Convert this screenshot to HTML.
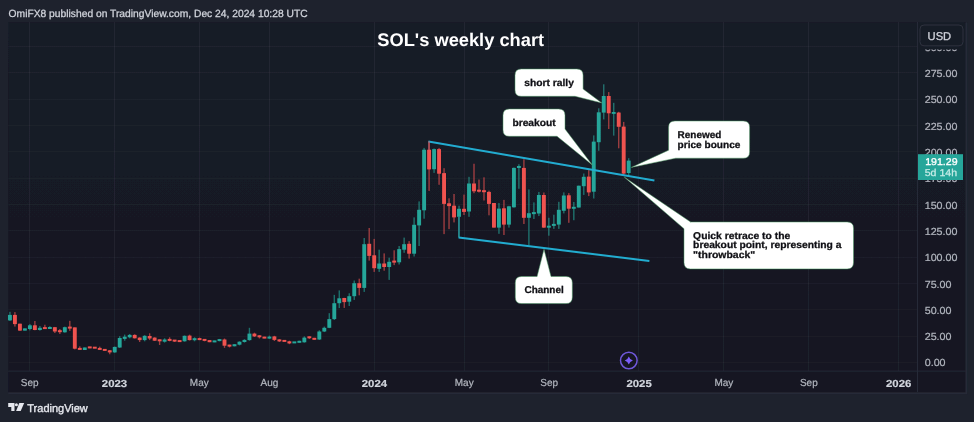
<!DOCTYPE html>
<html><head><meta charset="utf-8"><title>SOL weekly chart</title>
<style>
html,body{margin:0;padding:0;background:#1e222d;}
body{width:974px;height:422px;overflow:hidden;position:relative;font-family:"Liberation Sans",sans-serif;}
svg{position:absolute;left:0;top:0;display:block;}
text{font-family:"Liberation Sans",sans-serif;text-rendering:geometricPrecision;}
.ax{font-size:10.3px;fill:#b2b5be;stroke:#b2b5be;stroke-width:0.22px;}
.tm{font-size:10.2px;fill:#b2b5be;stroke:#b2b5be;stroke-width:0.22px;text-anchor:middle;}
.yr{font-size:10.2px;fill:#d1d4dc;stroke:#d1d4dc;stroke-width:0.2px;font-weight:bold;text-anchor:middle;}
.cb{font-size:9.9px;font-weight:bold;fill:#111115;stroke:#111115;stroke-width:0.28px;}
.box{fill:#ffffff;stroke:#4a9a62;stroke-width:0.5;}
</style></head><body>
<svg width="974" height="422" viewBox="0 0 974 422">
<rect x="0" y="0" width="974" height="422" fill="#1e222d"/>
<filter id="gb" filterUnits="userSpaceOnUse" x="0" y="0" width="974" height="422"><feGaussianBlur stdDeviation="0.3"/></filter>
<g filter="url(#gb)">
<defs><linearGradient id="pg" gradientUnits="userSpaceOnUse" x1="0" y1="22" x2="0" y2="371"><stop offset="0" stop-color="#191d28"/><stop offset="1" stop-color="#141621"/></linearGradient></defs>
<rect x="8.3" y="22.4" width="957.4" height="370" fill="#141621"/>
<rect x="8.3" y="22.4" width="957.4" height="348.6" fill="url(#pg)"/>
<text x="8.6" y="16.6" font-size="10.45" fill="#d1d4dc" stroke="#d1d4dc" stroke-width="0.28" textLength="299" lengthAdjust="spacingAndGlyphs">OmiFX8 published on TradingView.com, Dec 24, 2024 10:28 UTC</text>
<g stroke="rgba(240,243,250,0.03)" stroke-width="1">
<line x1="8.3" y1="46.5" x2="917" y2="46.5"/>
<line x1="8.3" y1="72.5" x2="917" y2="72.5"/>
<line x1="8.3" y1="99.5" x2="917" y2="99.5"/>
<line x1="8.3" y1="125.5" x2="917" y2="125.5"/>
<line x1="8.3" y1="151.5" x2="917" y2="151.5"/>
<line x1="8.3" y1="178.5" x2="917" y2="178.5"/>
<line x1="8.3" y1="204.5" x2="917" y2="204.5"/>
<line x1="8.3" y1="230.5" x2="917" y2="230.5"/>
<line x1="8.3" y1="257.5" x2="917" y2="257.5"/>
<line x1="8.3" y1="283.5" x2="917" y2="283.5"/>
<line x1="8.3" y1="309.5" x2="917" y2="309.5"/>
<line x1="8.3" y1="336.5" x2="917" y2="336.5"/>
<line x1="8.3" y1="362.5" x2="917" y2="362.5"/>
</g>
<g stroke="rgba(240,243,250,0.05)" stroke-width="1">
<line x1="29.5" y1="22" x2="29.5" y2="371"/>
<line x1="114.5" y1="22" x2="114.5" y2="371"/>
<line x1="199.5" y1="22" x2="199.5" y2="371"/>
<line x1="269.5" y1="22" x2="269.5" y2="371"/>
<line x1="374.5" y1="22" x2="374.5" y2="371"/>
<line x1="464.5" y1="22" x2="464.5" y2="371"/>
<line x1="548.5" y1="22" x2="548.5" y2="371"/>
<line x1="638.5" y1="22" x2="638.5" y2="371"/>
<line x1="723.5" y1="22" x2="723.5" y2="371"/>
<line x1="808.5" y1="22" x2="808.5" y2="371"/>
<line x1="898.5" y1="22" x2="898.5" y2="371"/>
</g>
<g stroke="#282c38" stroke-width="1">
<line x1="917.5" y1="22" x2="917.5" y2="392.3"/>
<line x1="8.3" y1="371.1" x2="965.8" y2="371.1"/>
<line x1="8.3" y1="393.4" x2="967.2" y2="393.4" stroke="#262a37" stroke-width="1.6"/>
<line x1="966.3" y1="22.4" x2="966.3" y2="394" stroke="#262a37" stroke-width="1.6"/>
</g>
<filter id="sb" filterUnits="userSpaceOnUse" x="0" y="0" width="974" height="422"><feGaussianBlur stdDeviation="0.35"/></filter>
<g filter="url(#sb)">
<rect x="9.23" y="311.8" width="1.4" height="9.2" fill="#26a69a" opacity="0.62"/>
<rect x="7.98" y="314.9" width="3.9" height="5.5" fill="#26a69a"/>
<rect x="14.22" y="312.1" width="1.4" height="14.5" fill="#ef5350" opacity="0.62"/>
<rect x="12.97" y="314.9" width="3.9" height="9.2" fill="#ef5350"/>
<rect x="19.21" y="323.7" width="1.4" height="7.2" fill="#ef5350" opacity="0.62"/>
<rect x="17.96" y="323.7" width="3.9" height="6.9" fill="#ef5350"/>
<rect x="24.20" y="328.4" width="1.4" height="2.2" fill="#26a69a" opacity="0.62"/>
<rect x="22.95" y="328.4" width="3.9" height="2.2" fill="#26a69a"/>
<rect x="29.19" y="324.1" width="1.4" height="6.2" fill="#26a69a" opacity="0.62"/>
<rect x="27.94" y="325.3" width="3.9" height="3.7" fill="#26a69a"/>
<rect x="34.18" y="321.0" width="1.4" height="9.3" fill="#ef5350" opacity="0.62"/>
<rect x="32.93" y="325.3" width="3.9" height="4.7" fill="#ef5350"/>
<rect x="39.17" y="326.0" width="1.4" height="4.6" fill="#26a69a" opacity="0.62"/>
<rect x="37.92" y="327.8" width="3.9" height="2.2" fill="#26a69a"/>
<rect x="44.16" y="324.7" width="1.4" height="4.3" fill="#ef5350" opacity="0.62"/>
<rect x="42.91" y="327.1" width="3.9" height="2.0" fill="#ef5350"/>
<rect x="49.15" y="326.2" width="1.4" height="2.8" fill="#26a69a" opacity="0.62"/>
<rect x="47.90" y="327.0" width="3.9" height="2.0" fill="#26a69a"/>
<rect x="54.14" y="326.9" width="1.4" height="6.2" fill="#ef5350" opacity="0.62"/>
<rect x="52.89" y="327.2" width="3.9" height="4.3" fill="#ef5350"/>
<rect x="59.13" y="329.0" width="1.4" height="5.0" fill="#ef5350" opacity="0.62"/>
<rect x="57.88" y="330.2" width="3.9" height="2.0" fill="#ef5350"/>
<rect x="64.12" y="326.6" width="1.4" height="6.1" fill="#26a69a" opacity="0.62"/>
<rect x="62.87" y="327.2" width="3.9" height="5.1" fill="#26a69a"/>
<rect x="69.11" y="320.8" width="1.4" height="10.1" fill="#ef5350" opacity="0.62"/>
<rect x="67.86" y="326.6" width="3.9" height="2.0" fill="#ef5350"/>
<rect x="74.10" y="327.4" width="1.4" height="22.0" fill="#ef5350" opacity="0.62"/>
<rect x="72.85" y="327.4" width="3.9" height="21.3" fill="#ef5350"/>
<rect x="79.09" y="346.3" width="1.4" height="3.7" fill="#ef5350" opacity="0.62"/>
<rect x="77.84" y="347.9" width="3.9" height="2.0" fill="#ef5350"/>
<rect x="84.08" y="347.5" width="1.4" height="2.5" fill="#26a69a" opacity="0.62"/>
<rect x="82.83" y="347.5" width="3.9" height="2.5" fill="#26a69a"/>
<rect x="89.07" y="346.8" width="1.4" height="1.4" fill="#ef5350" opacity="0.62"/>
<rect x="87.82" y="346.4" width="3.9" height="2.0" fill="#ef5350"/>
<rect x="94.06" y="347.3" width="1.4" height="0.8" fill="#ef5350" opacity="0.62"/>
<rect x="92.81" y="346.7" width="3.9" height="2.0" fill="#ef5350"/>
<rect x="99.05" y="346.6" width="1.4" height="3.4" fill="#ef5350" opacity="0.62"/>
<rect x="97.80" y="347.9" width="3.9" height="2.0" fill="#ef5350"/>
<rect x="104.04" y="349.0" width="1.4" height="1.8" fill="#ef5350" opacity="0.62"/>
<rect x="102.79" y="348.9" width="3.9" height="2.0" fill="#ef5350"/>
<rect x="109.03" y="350.0" width="1.4" height="4.3" fill="#ef5350" opacity="0.62"/>
<rect x="107.78" y="350.3" width="3.9" height="2.1" fill="#ef5350"/>
<rect x="114.02" y="346.6" width="1.4" height="6.2" fill="#26a69a" opacity="0.62"/>
<rect x="112.77" y="346.9" width="3.9" height="5.5" fill="#26a69a"/>
<rect x="119.01" y="336.2" width="1.4" height="11.7" fill="#26a69a" opacity="0.62"/>
<rect x="117.76" y="338.0" width="3.9" height="9.5" fill="#26a69a"/>
<rect x="124.00" y="334.6" width="1.4" height="6.1" fill="#26a69a" opacity="0.62"/>
<rect x="122.75" y="336.7" width="3.9" height="2.2" fill="#26a69a"/>
<rect x="128.99" y="334.0" width="1.4" height="4.3" fill="#26a69a" opacity="0.62"/>
<rect x="127.74" y="334.9" width="3.9" height="2.4" fill="#26a69a"/>
<rect x="133.98" y="334.3" width="1.4" height="4.2" fill="#ef5350" opacity="0.62"/>
<rect x="132.73" y="334.9" width="3.9" height="3.4" fill="#ef5350"/>
<rect x="138.97" y="337.3" width="1.4" height="4.7" fill="#ef5350" opacity="0.62"/>
<rect x="137.72" y="337.6" width="3.9" height="2.5" fill="#ef5350"/>
<rect x="143.96" y="335.2" width="1.4" height="6.1" fill="#26a69a" opacity="0.62"/>
<rect x="142.71" y="335.8" width="3.9" height="4.3" fill="#26a69a"/>
<rect x="148.95" y="333.3" width="1.4" height="6.8" fill="#ef5350" opacity="0.62"/>
<rect x="147.70" y="336.0" width="3.9" height="2.5" fill="#ef5350"/>
<rect x="153.94" y="337.3" width="1.4" height="3.7" fill="#ef5350" opacity="0.62"/>
<rect x="152.69" y="337.6" width="3.9" height="3.1" fill="#ef5350"/>
<rect x="158.93" y="339.5" width="1.4" height="5.5" fill="#ef5350" opacity="0.62"/>
<rect x="157.68" y="339.3" width="3.9" height="2.0" fill="#ef5350"/>
<rect x="163.92" y="338.3" width="1.4" height="4.3" fill="#26a69a" opacity="0.62"/>
<rect x="162.67" y="339.5" width="3.9" height="2.2" fill="#26a69a"/>
<rect x="168.91" y="337.3" width="1.4" height="4.0" fill="#ef5350" opacity="0.62"/>
<rect x="167.66" y="338.9" width="3.9" height="2.0" fill="#ef5350"/>
<rect x="173.90" y="340.1" width="1.4" height="1.9" fill="#ef5350" opacity="0.62"/>
<rect x="172.65" y="339.6" width="3.9" height="2.0" fill="#ef5350"/>
<rect x="178.89" y="340.7" width="1.4" height="0.9" fill="#ef5350" opacity="0.62"/>
<rect x="177.64" y="340.1" width="3.9" height="2.0" fill="#ef5350"/>
<rect x="183.88" y="335.5" width="1.4" height="6.1" fill="#26a69a" opacity="0.62"/>
<rect x="182.63" y="335.8" width="3.9" height="5.5" fill="#26a69a"/>
<rect x="188.87" y="334.6" width="1.4" height="5.9" fill="#ef5350" opacity="0.62"/>
<rect x="187.62" y="335.6" width="3.9" height="4.5" fill="#ef5350"/>
<rect x="193.86" y="337.3" width="1.4" height="4.0" fill="#26a69a" opacity="0.62"/>
<rect x="192.61" y="338.2" width="3.9" height="2.0" fill="#26a69a"/>
<rect x="198.85" y="337.6" width="1.4" height="2.5" fill="#ef5350" opacity="0.62"/>
<rect x="197.60" y="338.1" width="3.9" height="2.0" fill="#ef5350"/>
<rect x="203.84" y="339.2" width="1.4" height="2.1" fill="#ef5350" opacity="0.62"/>
<rect x="202.59" y="338.9" width="3.9" height="2.0" fill="#ef5350"/>
<rect x="208.83" y="340.1" width="1.4" height="2.1" fill="#ef5350" opacity="0.62"/>
<rect x="207.58" y="340.1" width="3.9" height="2.1" fill="#ef5350"/>
<rect x="213.82" y="340.7" width="1.4" height="1.5" fill="#26a69a" opacity="0.62"/>
<rect x="212.57" y="340.4" width="3.9" height="2.0" fill="#26a69a"/>
<rect x="218.81" y="338.9" width="1.4" height="2.4" fill="#26a69a" opacity="0.62"/>
<rect x="217.56" y="339.1" width="3.9" height="2.0" fill="#26a69a"/>
<rect x="223.80" y="338.5" width="1.4" height="9.4" fill="#ef5350" opacity="0.62"/>
<rect x="222.55" y="339.5" width="3.9" height="6.2" fill="#ef5350"/>
<rect x="228.79" y="344.7" width="1.4" height="2.8" fill="#ef5350" opacity="0.62"/>
<rect x="227.54" y="344.6" width="3.9" height="2.0" fill="#ef5350"/>
<rect x="233.78" y="344.2" width="1.4" height="2.1" fill="#26a69a" opacity="0.62"/>
<rect x="232.53" y="344.2" width="3.9" height="2.1" fill="#26a69a"/>
<rect x="238.77" y="341.3" width="1.4" height="4.1" fill="#26a69a" opacity="0.62"/>
<rect x="237.52" y="341.7" width="3.9" height="3.0" fill="#26a69a"/>
<rect x="243.76" y="339.2" width="1.4" height="3.4" fill="#26a69a" opacity="0.62"/>
<rect x="242.51" y="339.9" width="3.9" height="2.1" fill="#26a69a"/>
<rect x="248.75" y="327.8" width="1.4" height="12.9" fill="#26a69a" opacity="0.62"/>
<rect x="247.50" y="333.6" width="3.9" height="6.5" fill="#26a69a"/>
<rect x="253.74" y="332.7" width="1.4" height="4.3" fill="#ef5350" opacity="0.62"/>
<rect x="252.49" y="333.6" width="3.9" height="2.8" fill="#ef5350"/>
<rect x="258.73" y="335.2" width="1.4" height="3.3" fill="#ef5350" opacity="0.62"/>
<rect x="257.48" y="335.3" width="3.9" height="2.0" fill="#ef5350"/>
<rect x="263.72" y="336.8" width="1.4" height="1.5" fill="#ef5350" opacity="0.62"/>
<rect x="262.47" y="336.6" width="3.9" height="2.0" fill="#ef5350"/>
<rect x="268.71" y="335.6" width="1.4" height="3.3" fill="#26a69a" opacity="0.62"/>
<rect x="267.46" y="336.6" width="3.9" height="2.0" fill="#26a69a"/>
<rect x="273.70" y="335.8" width="1.4" height="5.2" fill="#ef5350" opacity="0.62"/>
<rect x="272.45" y="336.4" width="3.9" height="3.5" fill="#ef5350"/>
<rect x="278.69" y="339.2" width="1.4" height="2.8" fill="#ef5350" opacity="0.62"/>
<rect x="277.44" y="339.4" width="3.9" height="2.0" fill="#ef5350"/>
<rect x="283.68" y="340.1" width="1.4" height="1.6" fill="#ef5350" opacity="0.62"/>
<rect x="282.43" y="339.9" width="3.9" height="2.0" fill="#ef5350"/>
<rect x="288.67" y="340.7" width="1.4" height="3.5" fill="#ef5350" opacity="0.62"/>
<rect x="287.42" y="341.3" width="3.9" height="2.1" fill="#ef5350"/>
<rect x="293.66" y="342.0" width="1.4" height="0.9" fill="#26a69a" opacity="0.62"/>
<rect x="292.41" y="341.4" width="3.9" height="2.0" fill="#26a69a"/>
<rect x="298.65" y="340.7" width="1.4" height="1.9" fill="#26a69a" opacity="0.62"/>
<rect x="297.40" y="340.8" width="3.9" height="2.0" fill="#26a69a"/>
<rect x="303.64" y="336.4" width="1.4" height="6.2" fill="#26a69a" opacity="0.62"/>
<rect x="302.39" y="337.6" width="3.9" height="4.7" fill="#26a69a"/>
<rect x="308.63" y="336.4" width="1.4" height="2.5" fill="#ef5350" opacity="0.62"/>
<rect x="307.38" y="336.3" width="3.9" height="2.0" fill="#ef5350"/>
<rect x="313.62" y="337.9" width="1.4" height="1.8" fill="#ef5350" opacity="0.62"/>
<rect x="312.37" y="337.8" width="3.9" height="2.0" fill="#ef5350"/>
<rect x="318.61" y="330.3" width="1.4" height="9.6" fill="#26a69a" opacity="0.62"/>
<rect x="317.36" y="331.5" width="3.9" height="8.0" fill="#26a69a"/>
<rect x="323.60" y="326.6" width="1.4" height="5.5" fill="#26a69a" opacity="0.62"/>
<rect x="322.35" y="327.8" width="3.9" height="3.7" fill="#26a69a"/>
<rect x="328.59" y="313.2" width="1.4" height="15.0" fill="#26a69a" opacity="0.62"/>
<rect x="327.34" y="319.1" width="3.9" height="8.7" fill="#26a69a"/>
<rect x="333.58" y="294.9" width="1.4" height="25.1" fill="#26a69a" opacity="0.62"/>
<rect x="332.33" y="303.2" width="3.9" height="15.9" fill="#26a69a"/>
<rect x="338.57" y="290.4" width="1.4" height="17.7" fill="#26a69a" opacity="0.62"/>
<rect x="337.32" y="298.3" width="3.9" height="4.9" fill="#26a69a"/>
<rect x="343.56" y="297.8" width="1.4" height="10.1" fill="#ef5350" opacity="0.62"/>
<rect x="342.31" y="298.0" width="3.9" height="4.1" fill="#ef5350"/>
<rect x="348.55" y="293.3" width="1.4" height="12.7" fill="#26a69a" opacity="0.62"/>
<rect x="347.30" y="296.2" width="3.9" height="5.5" fill="#26a69a"/>
<rect x="353.54" y="280.5" width="1.4" height="19.4" fill="#26a69a" opacity="0.62"/>
<rect x="352.29" y="283.2" width="3.9" height="13.0" fill="#26a69a"/>
<rect x="358.53" y="278.7" width="1.4" height="16.6" fill="#ef5350" opacity="0.62"/>
<rect x="357.28" y="283.2" width="3.9" height="4.7" fill="#ef5350"/>
<rect x="363.52" y="238.0" width="1.4" height="53.9" fill="#26a69a" opacity="0.62"/>
<rect x="362.27" y="244.2" width="3.9" height="43.7" fill="#26a69a"/>
<rect x="368.51" y="228.0" width="1.4" height="32.6" fill="#ef5350" opacity="0.62"/>
<rect x="367.26" y="243.8" width="3.9" height="12.1" fill="#ef5350"/>
<rect x="373.50" y="238.9" width="1.4" height="33.0" fill="#ef5350" opacity="0.62"/>
<rect x="372.25" y="255.3" width="3.9" height="12.9" fill="#ef5350"/>
<rect x="378.49" y="249.7" width="1.4" height="22.2" fill="#26a69a" opacity="0.62"/>
<rect x="377.24" y="263.5" width="3.9" height="5.3" fill="#26a69a"/>
<rect x="383.48" y="253.4" width="1.4" height="17.3" fill="#ef5350" opacity="0.62"/>
<rect x="382.23" y="263.5" width="3.9" height="3.5" fill="#ef5350"/>
<rect x="388.47" y="257.7" width="1.4" height="22.2" fill="#26a69a" opacity="0.62"/>
<rect x="387.22" y="261.8" width="3.9" height="5.2" fill="#26a69a"/>
<rect x="393.46" y="250.3" width="1.4" height="14.8" fill="#ef5350" opacity="0.62"/>
<rect x="392.21" y="260.6" width="3.9" height="2.0" fill="#ef5350"/>
<rect x="398.45" y="246.0" width="1.4" height="18.5" fill="#26a69a" opacity="0.62"/>
<rect x="397.20" y="249.1" width="3.9" height="13.2" fill="#26a69a"/>
<rect x="403.44" y="237.6" width="1.4" height="15.2" fill="#26a69a" opacity="0.62"/>
<rect x="402.19" y="244.2" width="3.9" height="5.5" fill="#26a69a"/>
<rect x="408.43" y="241.1" width="1.4" height="17.5" fill="#ef5350" opacity="0.62"/>
<rect x="407.18" y="243.8" width="3.9" height="9.9" fill="#ef5350"/>
<rect x="413.42" y="217.4" width="1.4" height="39.1" fill="#26a69a" opacity="0.62"/>
<rect x="412.17" y="224.8" width="3.9" height="28.9" fill="#26a69a"/>
<rect x="418.41" y="201.4" width="1.4" height="44.6" fill="#26a69a" opacity="0.62"/>
<rect x="417.16" y="209.8" width="3.9" height="15.6" fill="#26a69a"/>
<rect x="423.40" y="147.9" width="1.4" height="70.8" fill="#26a69a" opacity="0.62"/>
<rect x="422.15" y="149.7" width="3.9" height="60.6" fill="#26a69a"/>
<rect x="428.39" y="141.3" width="1.4" height="49.6" fill="#ef5350" opacity="0.62"/>
<rect x="427.14" y="149.7" width="3.9" height="19.7" fill="#ef5350"/>
<rect x="433.38" y="148.5" width="1.4" height="24.4" fill="#26a69a" opacity="0.62"/>
<rect x="432.13" y="149.1" width="3.9" height="20.1" fill="#26a69a"/>
<rect x="438.37" y="147.9" width="1.4" height="36.9" fill="#ef5350" opacity="0.62"/>
<rect x="437.12" y="149.1" width="3.9" height="24.6" fill="#ef5350"/>
<rect x="443.36" y="168.2" width="1.4" height="65.9" fill="#ef5350" opacity="0.62"/>
<rect x="442.11" y="173.1" width="3.9" height="30.8" fill="#ef5350"/>
<rect x="448.35" y="198.3" width="1.4" height="30.8" fill="#ef5350" opacity="0.62"/>
<rect x="447.10" y="203.3" width="3.9" height="2.8" fill="#ef5350"/>
<rect x="453.34" y="194.0" width="1.4" height="28.4" fill="#ef5350" opacity="0.62"/>
<rect x="452.09" y="205.7" width="3.9" height="11.7" fill="#ef5350"/>
<rect x="458.33" y="205.7" width="1.4" height="32.1" fill="#26a69a" opacity="0.62"/>
<rect x="457.08" y="208.8" width="3.9" height="8.0" fill="#26a69a"/>
<rect x="463.32" y="194.6" width="1.4" height="20.4" fill="#ef5350" opacity="0.62"/>
<rect x="462.07" y="208.8" width="3.9" height="3.1" fill="#ef5350"/>
<rect x="468.31" y="176.8" width="1.4" height="40.0" fill="#26a69a" opacity="0.62"/>
<rect x="467.06" y="183.5" width="3.9" height="28.0" fill="#26a69a"/>
<rect x="473.30" y="163.7" width="1.4" height="29.5" fill="#ef5350" opacity="0.62"/>
<rect x="472.05" y="183.5" width="3.9" height="7.8" fill="#ef5350"/>
<rect x="478.29" y="179.5" width="1.4" height="13.0" fill="#ef5350" opacity="0.62"/>
<rect x="477.04" y="189.7" width="3.9" height="2.0" fill="#ef5350"/>
<rect x="483.28" y="177.3" width="1.4" height="23.2" fill="#ef5350" opacity="0.62"/>
<rect x="482.03" y="190.2" width="3.9" height="2.0" fill="#ef5350"/>
<rect x="488.27" y="190.7" width="1.4" height="24.6" fill="#ef5350" opacity="0.62"/>
<rect x="487.02" y="191.9" width="3.9" height="12.0" fill="#ef5350"/>
<rect x="493.26" y="203.0" width="1.4" height="24.6" fill="#ef5350" opacity="0.62"/>
<rect x="492.01" y="203.0" width="3.9" height="24.6" fill="#ef5350"/>
<rect x="498.25" y="203.0" width="1.4" height="30.8" fill="#26a69a" opacity="0.62"/>
<rect x="497.00" y="208.6" width="3.9" height="19.0" fill="#26a69a"/>
<rect x="503.24" y="199.9" width="1.4" height="35.1" fill="#ef5350" opacity="0.62"/>
<rect x="501.99" y="208.3" width="3.9" height="16.3" fill="#ef5350"/>
<rect x="508.23" y="205.8" width="1.4" height="21.8" fill="#26a69a" opacity="0.62"/>
<rect x="506.98" y="206.3" width="3.9" height="18.3" fill="#26a69a"/>
<rect x="513.22" y="167.5" width="1.4" height="40.1" fill="#26a69a" opacity="0.62"/>
<rect x="511.97" y="167.9" width="3.9" height="39.4" fill="#26a69a"/>
<rect x="518.21" y="164.2" width="1.4" height="24.6" fill="#26a69a" opacity="0.62"/>
<rect x="516.96" y="166.0" width="3.9" height="2.0" fill="#26a69a"/>
<rect x="523.20" y="159.2" width="1.4" height="64.8" fill="#ef5350" opacity="0.62"/>
<rect x="521.95" y="167.9" width="3.9" height="49.9" fill="#ef5350"/>
<rect x="528.19" y="189.4" width="1.4" height="55.8" fill="#26a69a" opacity="0.62"/>
<rect x="526.94" y="213.2" width="3.9" height="4.6" fill="#26a69a"/>
<rect x="533.18" y="202.4" width="1.4" height="16.6" fill="#26a69a" opacity="0.62"/>
<rect x="531.93" y="212.1" width="3.9" height="2.0" fill="#26a69a"/>
<rect x="538.17" y="191.9" width="1.4" height="24.1" fill="#26a69a" opacity="0.62"/>
<rect x="536.92" y="195.0" width="3.9" height="18.5" fill="#26a69a"/>
<rect x="543.16" y="192.5" width="1.4" height="35.4" fill="#ef5350" opacity="0.62"/>
<rect x="541.91" y="195.0" width="3.9" height="32.6" fill="#ef5350"/>
<rect x="548.15" y="217.8" width="1.4" height="17.9" fill="#26a69a" opacity="0.62"/>
<rect x="546.90" y="225.7" width="3.9" height="2.0" fill="#26a69a"/>
<rect x="553.14" y="214.7" width="1.4" height="14.2" fill="#26a69a" opacity="0.62"/>
<rect x="551.89" y="223.9" width="3.9" height="2.0" fill="#26a69a"/>
<rect x="558.13" y="201.8" width="1.4" height="27.1" fill="#26a69a" opacity="0.62"/>
<rect x="556.88" y="209.8" width="3.9" height="14.8" fill="#26a69a"/>
<rect x="563.12" y="192.4" width="1.4" height="21.0" fill="#26a69a" opacity="0.62"/>
<rect x="561.87" y="195.5" width="3.9" height="15.3" fill="#26a69a"/>
<rect x="568.11" y="193.1" width="1.4" height="29.7" fill="#ef5350" opacity="0.62"/>
<rect x="566.86" y="195.3" width="3.9" height="13.4" fill="#ef5350"/>
<rect x="573.10" y="202.0" width="1.4" height="18.2" fill="#26a69a" opacity="0.62"/>
<rect x="571.85" y="206.8" width="3.9" height="2.0" fill="#26a69a"/>
<rect x="578.09" y="185.7" width="1.4" height="21.8" fill="#26a69a" opacity="0.62"/>
<rect x="576.84" y="185.7" width="3.9" height="21.8" fill="#26a69a"/>
<rect x="583.08" y="173.5" width="1.4" height="21.4" fill="#26a69a" opacity="0.62"/>
<rect x="581.83" y="176.8" width="3.9" height="9.4" fill="#26a69a"/>
<rect x="588.07" y="170.1" width="1.4" height="26.0" fill="#ef5350" opacity="0.62"/>
<rect x="586.82" y="176.6" width="3.9" height="15.8" fill="#ef5350"/>
<rect x="593.06" y="135.4" width="1.4" height="63.1" fill="#26a69a" opacity="0.62"/>
<rect x="591.81" y="141.6" width="3.9" height="50.1" fill="#26a69a"/>
<rect x="598.05" y="108.3" width="1.4" height="42.5" fill="#26a69a" opacity="0.62"/>
<rect x="596.80" y="112.3" width="3.9" height="29.9" fill="#26a69a"/>
<rect x="603.04" y="84.3" width="1.4" height="35.1" fill="#26a69a" opacity="0.62"/>
<rect x="601.79" y="96.0" width="3.9" height="16.6" fill="#26a69a"/>
<rect x="608.03" y="92.1" width="1.4" height="36.9" fill="#ef5350" opacity="0.62"/>
<rect x="606.78" y="96.0" width="3.9" height="17.3" fill="#ef5350"/>
<rect x="613.02" y="102.8" width="1.4" height="32.8" fill="#26a69a" opacity="0.62"/>
<rect x="611.77" y="112.0" width="3.9" height="1.9" fill="#26a69a"/>
<rect x="618.01" y="111.8" width="1.4" height="36.5" fill="#ef5350" opacity="0.62"/>
<rect x="616.76" y="112.6" width="3.9" height="14.2" fill="#ef5350"/>
<rect x="623.00" y="121.9" width="1.4" height="52.9" fill="#ef5350" opacity="0.62"/>
<rect x="621.75" y="126.6" width="3.9" height="47.0" fill="#ef5350"/>
<rect x="627.99" y="158.2" width="1.4" height="17.2" fill="#26a69a" opacity="0.62"/>
<rect x="626.74" y="160.6" width="3.9" height="12.4" fill="#26a69a"/>
</g>
<g stroke="#23acd0" stroke-width="2" stroke-linecap="butt" fill="none">
<line x1="428.4" y1="141.5" x2="654.4" y2="180.5"/>
<line x1="458.6" y1="237.6" x2="649.4" y2="261.1"/>
</g>
<line x1="458.9" y1="217" x2="458.9" y2="237.2" stroke="#2b9ea6" stroke-width="1.3" opacity="0.85"/>
<line x1="429" y1="141.3" x2="429" y2="150" stroke="#c0606a" stroke-width="1.1"/>
<path class="box" d="M521.3 69.0 L576.8 69.0 Q583.1 69.0 583.1 75.3 L583.1 89.0 L601.8 102.9 L575.0 96.3 L521.3 96.3 Q515.0 96.3 515.0 90.0 L515.0 75.3 Q515.0 69.0 521.3 69.0 Z"/>
<text class="cb" x="524.3" y="85.9" textLength="49.6" lengthAdjust="spacingAndGlyphs">short rally</text>
<path class="box" d="M509.3 109.0 L558.7 109.0 Q565.0 109.0 565.0 115.3 L565.0 129.0 L592.3 165.0 L557.0 136.3 L509.3 136.3 Q503.0 136.3 503.0 130.0 L503.0 115.3 Q503.0 109.0 509.3 109.0 Z"/>
<text class="cb" x="512.4" y="125.9" textLength="43.3" lengthAdjust="spacingAndGlyphs">breakout</text>
<path class="box" d="M674.9 121.0 L743.3 121.0 Q749.6 121.0 749.6 127.3 L749.6 151.9 Q749.6 158.2 743.3 158.2 L675.7 158.2 L631.2 167.4 L668.6 150.2 L668.6 127.3 Q668.6 121.0 674.9 121.0 Z"/>
<text class="cb" x="677.6" y="137.9" textLength="43.7" lengthAdjust="spacingAndGlyphs">Renewed</text>
<text class="cb" x="677.6" y="147.7" textLength="62.8" lengthAdjust="spacingAndGlyphs">price bounce</text>
<path class="box" d="M690.3 222.0 L847.2 222.0 Q853.5 222.0 853.5 228.3 L853.5 262.6 Q853.5 268.9 847.2 268.9 L690.3 268.9 Q684.0 268.9 684.0 262.6 L684.0 228.7 L624.1 176.9 L690.6 222.0 Z"/>
<text class="cb" x="693.1" y="238.6" textLength="97.1" lengthAdjust="spacingAndGlyphs">Quick retrace to the</text>
<text class="cb" x="693.1" y="248.3" textLength="148.4" lengthAdjust="spacingAndGlyphs">breakout point, representing a</text>
<text class="cb" x="693.1" y="258.0" textLength="62.1" lengthAdjust="spacingAndGlyphs">&quot;throwback&quot;</text>
<path class="box" d="M521.6 276.5 L537.1 276.5 L544.0 249.3 L551.0 276.5 L566.0 276.5 Q572.3 276.5 572.3 282.8 L572.3 297.3 Q572.3 303.6 566.0 303.6 L521.6 303.6 Q515.3 303.6 515.3 297.3 L515.3 282.8 Q515.3 276.5 521.6 276.5 Z"/>
<text class="cb" x="524.5" y="293.0" textLength="39.2" lengthAdjust="spacingAndGlyphs">Channel</text>
<text x="377.3" y="46.2" font-size="18.2" font-weight="bold" fill="#ffffff" textLength="166.8" lengthAdjust="spacingAndGlyphs">SOL&#39;s weekly chart</text>
<text class="ax" transform="translate(924.7,50.6) scale(1.04,1)">300.00</text>
<text class="ax" transform="translate(924.7,76.9) scale(1.04,1)">275.00</text>
<text class="ax" transform="translate(924.7,103.2) scale(1.04,1)">250.00</text>
<text class="ax" transform="translate(924.7,129.6) scale(1.04,1)">225.00</text>
<text class="ax" transform="translate(924.7,155.9) scale(1.04,1)">200.00</text>
<text class="ax" transform="translate(924.7,182.2) scale(1.04,1)">175.00</text>
<text class="ax" transform="translate(924.7,208.5) scale(1.04,1)">150.00</text>
<text class="ax" transform="translate(924.7,234.8) scale(1.04,1)">125.00</text>
<text class="ax" transform="translate(924.7,261.2) scale(1.04,1)">100.00</text>
<text class="ax" transform="translate(924.7,287.5) scale(1.04,1)">75.00</text>
<text class="ax" transform="translate(924.7,313.8) scale(1.04,1)">50.00</text>
<text class="ax" transform="translate(924.7,340.1) scale(1.04,1)">25.00</text>
<text class="ax" transform="translate(924.7,366.4) scale(1.04,1)">0.00</text>
<rect x="920" y="25" width="43" height="20.8" rx="4" fill="#171b26" stroke="#2a2e39" stroke-width="1"/>
<rect x="918.5" y="22.5" width="46" height="27" fill="#191d28"/>
<rect x="920" y="25" width="43" height="20.8" rx="4" fill="#161a25" stroke="#2e323e" stroke-width="1"/>
<text x="927.6" y="39.6" font-size="11.4" fill="#d1d4dc" stroke="#d1d4dc" stroke-width="0.3" textLength="23.6" lengthAdjust="spacingAndGlyphs">USD</text>
<rect x="918" y="154.2" width="45" height="25.8" fill="#26a69a"/>
<text transform="translate(925.2,164.6) scale(1.07,1)" font-size="9.9" fill="#ffffff" stroke="#ffffff" stroke-width="0.3">191.29</text>
<text transform="translate(924.7,176.2) scale(1.07,1)" font-size="9.9" fill="#c6ece7" stroke="#c6ece7" stroke-width="0.25">5d 14h</text>
<text class="tm" transform="translate(29.7,386.3) scale(0.98,1)">Sep</text>
<text class="yr" x="114.5" y="386.5" textLength="25.3" lengthAdjust="spacingAndGlyphs">2023</text>
<text class="tm" transform="translate(199.3,386.3) scale(0.98,1)">May</text>
<text class="tm" transform="translate(269.5,386.3) scale(0.98,1)">Aug</text>
<text class="yr" x="374.4" y="386.5" textLength="25.3" lengthAdjust="spacingAndGlyphs">2024</text>
<text class="tm" transform="translate(464.2,386.3) scale(0.98,1)">May</text>
<text class="tm" transform="translate(549.2,386.3) scale(0.98,1)">Sep</text>
<text class="yr" x="639.1" y="386.5" textLength="25.3" lengthAdjust="spacingAndGlyphs">2025</text>
<text class="tm" transform="translate(723.9,386.3) scale(0.98,1)">May</text>
<text class="tm" transform="translate(808.8,386.3) scale(0.98,1)">Sep</text>
<text class="yr" x="898.7" y="386.5" textLength="25.3" lengthAdjust="spacingAndGlyphs">2026</text>
<g transform="translate(628.8,360.5)">
<circle r="8.3" fill="#141621" stroke="#6f58d8" stroke-width="1.5"/>
<path d="M0 -4.1 Q1.0 -1.0 4.1 0 Q1.0 1.0 0 4.1 Q-1.0 1.0 -4.1 0 Q-1.0 -1.0 0 -4.1Z" fill="#7c5ef8"/>
</g>
<g fill="#e6e8ee">
<path d="M8.2 403.1 h6.3 v7.9 h-3.2 v-4.1 h-3.1z"/>
<circle cx="16.4" cy="404.7" r="1.55"/>
<path d="M19.3 403.1 H24.2 L20.7 411 H16.1Z"/>
</g>
<text x="27.3" y="411.8" font-size="11.2" fill="#e6e8ee" stroke="#e6e8ee" stroke-width="0.35" textLength="60.5" lengthAdjust="spacingAndGlyphs">TradingView</text>
</g></svg></body></html>
